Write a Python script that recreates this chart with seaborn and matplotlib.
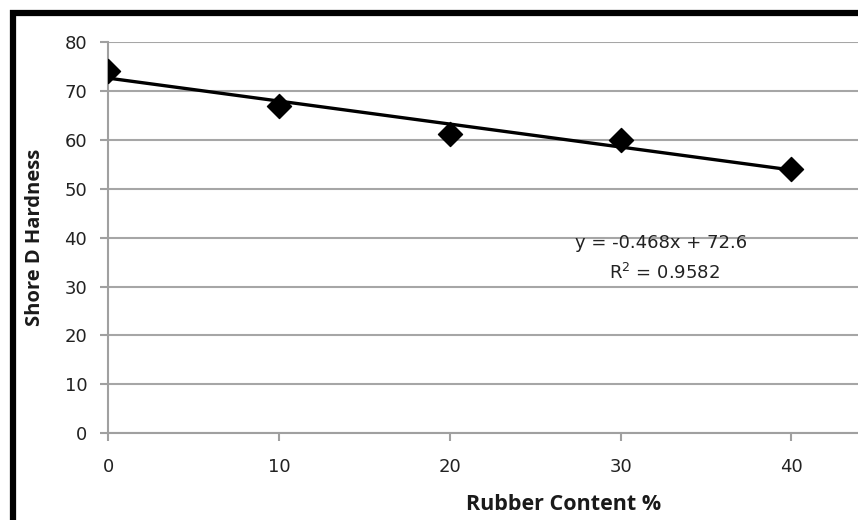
import numpy as np
import pandas as pd
import seaborn as sns
import matplotlib.pyplot as plt

# dados
borracha = [0, 10, 20, 30, 40]
dureza = [74, 67, 61.2, 60, 54]
equacao = "y = -0.468x + 72.6"
r2_texto = "R$^2$ = 0.9582"
yticks = [0, 10, 20, 30, 40, 50, 60, 70, 80]
xticks = [0, 10, 20, 30, 40]

df = pd.DataFrame({"borracha": borracha, "dureza": dureza})

sns.set_style("white")
plt.rcParams["font.family"] = ["DejaVu Sans"]

fig = plt.figure(figsize=(8.58, 5.2), dpi=100)
ax = fig.add_axes([0.126, 0.167, 0.874, 0.752])

sns.regplot(data=df, x="borracha", y="dureza", ax=ax, ci=None, truncate=True,
            marker="D", color="black",
            scatter_kws={"s": 150, "alpha": 1, "zorder": 4},
            line_kws={"lw": 2.4, "zorder": 3})

ax.set_xlim(0, 43.9)
ax.set_ylim(0, 80)
ax.set_xticks(xticks)
ax.set_yticks(yticks)
ax.grid(axis="y", color="#a6a6a6", lw=1.5)
ax.set_axisbelow(True)

for s in ["top", "right"]:
    ax.spines[s].set_visible(False)
for s in ["left", "bottom"]:
    ax.spines[s].set_color("#a0a0a0")
    ax.spines[s].set_linewidth(1.5)

ax.tick_params(axis="both", direction="out", length=6, width=1.5, color="#a0a0a0",
               labelsize=13, labelcolor="#222222", bottom=True, left=True)
ax.tick_params(axis="x", pad=12)
ax.tick_params(axis="y", pad=9)

ax.set_xlabel("Rubber Content %", fontsize=15.5, fontweight="bold", family="Open Sans",
              color="#1a1a1a")
ax.set_ylabel("Shore D Hardness", fontsize=14.5, fontweight="bold", family="Open Sans",
              color="#1a1a1a")
ax.xaxis.set_label_coords(0.608, -0.155)
ax.yaxis.set_label_coords(-0.098, 0.5)
ax.xaxis.label.set_va("top")
ax.yaxis.label.set_va("center")

ax.text(32.4, 38.9, equacao, ha="center", va="center", fontsize=13, color="#222222")
ax.text(32.6, 32.7, r2_texto, ha="center", va="center", fontsize=13, color="#222222")

# moldura preta
fig.add_artist(plt.Rectangle((0.0152, -0.2), 1.2, 1.175, fill=False, lw=4.5,
                             edgecolor="black", transform=fig.transFigure))

fig.savefig("out.png", dpi=100)
plt.close()
